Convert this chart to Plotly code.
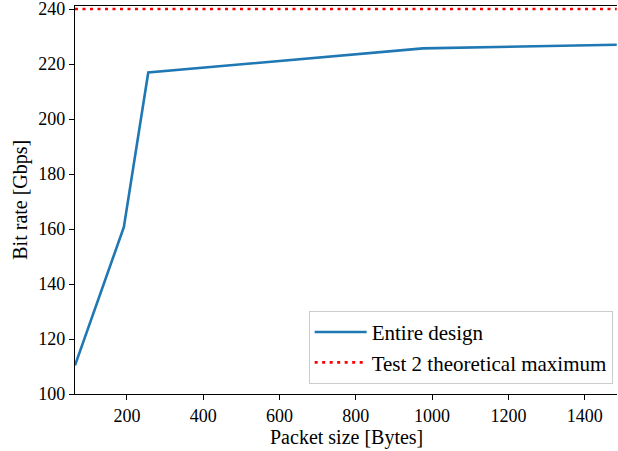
import plotly.graph_objects as go

packet_sizes = [64, 192, 256, 976, 1484]
bit_rates = [110.4, 160.7, 216.9, 225.7, 227.0]
theoretical_max = 240
x_ticks = [200, 400, 600, 800, 1000, 1200, 1400]
y_ticks = [100, 120, 140, 160, 180, 200, 220, 240]

FONT = "Liberation Serif"

fig = go.Figure()
fig.add_trace(go.Scatter(
    x=packet_sizes, y=bit_rates, mode="lines", name="Entire design",
    line=dict(color="#1f77b4", width=2.6),
))
fig.add_trace(go.Scatter(
    x=[packet_sizes[0], packet_sizes[-1]], y=[theoretical_max, theoretical_max],
    mode="lines", name="Test 2 theoretical maximum",
    line=dict(color="red", width=2.6, dash="3px,4.5px"),
))

fig.update_layout(
    width=618, height=451,
    margin=dict(l=75, r=1, t=6, b=57, autoexpand=False),
    plot_bgcolor="white", paper_bgcolor="white",
    font=dict(family=FONT, size=18, color="black"),
    showlegend=True,
    legend=dict(
        x=0.992, y=0.026, xanchor="right", yanchor="bottom",
        bgcolor="rgba(255,255,255,0.8)", bordercolor="#cccccc", borderwidth=1,
        font=dict(family=FONT, size=21), tracegroupgap=0,
        itemwidth=52,
    ),
    xaxis=dict(
        range=[64, 1484.7], tickvals=x_ticks, showgrid=False, zeroline=False,
        showline=True, linecolor="black", linewidth=1.2, mirror=True,
        ticks="outside", ticklen=5, tickcolor="black", tickwidth=1,
        automargin=False, ticklabeloverflow="allow",
    ),
    yaxis=dict(
        range=[100, 241.1], tickvals=y_ticks, showgrid=False, zeroline=False,
        showline=True, linecolor="black", linewidth=1.2,
        ticks="outside", ticklen=5, tickcolor="black", tickwidth=1,
        automargin=False, ticklabeloverflow="allow",
    ),
    annotations=[
        dict(text="Packet size [Bytes]", x=0.5, y=-0.112, xref="paper", yref="paper",
             xanchor="center", yanchor="middle", showarrow=False,
             font=dict(family=FONT, size=20)),
        dict(text="Bit rate [Gbps]", x=-0.102, y=0.5, xref="paper", yref="paper",
             xanchor="center", yanchor="middle", showarrow=False, textangle=-90,
             font=dict(family=FONT, size=20)),
    ],
)

fig.write_html(
    "out.html",
    config={"displayModeBar": False},
    post_script="document.body.style.margin='0';document.body.style.overflow='hidden';",
)
